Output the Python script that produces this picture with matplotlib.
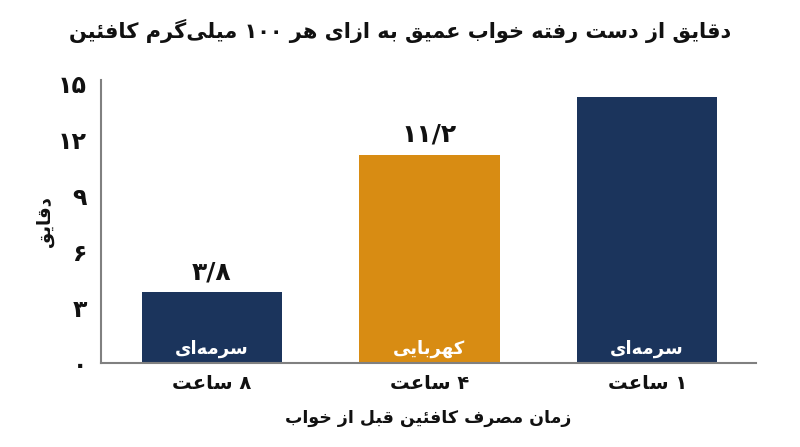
import matplotlib
matplotlib.use("Agg")
import matplotlib.pyplot as plt

# ---------------- data ----------------
categories = ["۸ ساعت", "۴ ساعت", "۱ ساعت"]
values = [3.8, 11.2, 14.3]
value_labels = ["۳/۸", "۱۱/۲", ""]
bar_names = ["سرمه‌ای", "کهربایی", "سرمه‌ای"]
y_ticks = [0, 3, 6, 9, 12, 15]
y_tick_labels = ["۰", "۳", "۶", "۹", "۱۲", "۱۵"]
title = "دقایق از دست رفته خواب عمیق به ازای هر ۱۰۰ میلی‌گرم کافئین"
x_title = "زمان مصرف کافئین قبل از خواب"
y_title = "دقایق"

NAVY = "#1b345c"
AMBER = "#d88c13"
bar_colors = [NAVY, AMBER, NAVY]

# ------------- minimal Arabic/Persian shaping -------------
# forms: (isolated, final, initial, medial); None for right-joining letters
FORMS = {
    "\u0627": (0xFE8D, 0xFE8E, None, None),
    "\u0628": (0xFE8F, 0xFE90, 0xFE91, 0xFE92),
    "\u0629": (0xFE93, 0xFE94, None, None),
    "\u062A": (0xFE95, 0xFE96, 0xFE97, 0xFE98),
    "\u062B": (0xFE99, 0xFE9A, 0xFE9B, 0xFE9C),
    "\u062C": (0xFE9D, 0xFE9E, 0xFE9F, 0xFEA0),
    "\u062D": (0xFEA1, 0xFEA2, 0xFEA3, 0xFEA4),
    "\u062E": (0xFEA5, 0xFEA6, 0xFEA7, 0xFEA8),
    "\u062F": (0xFEA9, 0xFEAA, None, None),
    "\u0630": (0xFEAB, 0xFEAC, None, None),
    "\u0631": (0xFEAD, 0xFEAE, None, None),
    "\u0632": (0xFEAF, 0xFEB0, None, None),
    "\u0633": (0xFEB1, 0xFEB2, 0xFEB3, 0xFEB4),
    "\u0634": (0xFEB5, 0xFEB6, 0xFEB7, 0xFEB8),
    "\u0635": (0xFEB9, 0xFEBA, 0xFEBB, 0xFEBC),
    "\u0636": (0xFEBD, 0xFEBE, 0xFEBF, 0xFEC0),
    "\u0637": (0xFEC1, 0xFEC2, 0xFEC3, 0xFEC4),
    "\u0638": (0xFEC5, 0xFEC6, 0xFEC7, 0xFEC8),
    "\u0639": (0xFEC9, 0xFECA, 0xFECB, 0xFECC),
    "\u063A": (0xFECD, 0xFECE, 0xFECF, 0xFED0),
    "\u0641": (0xFED1, 0xFED2, 0xFED3, 0xFED4),
    "\u0642": (0xFED5, 0xFED6, 0xFED7, 0xFED8),
    "\u0643": (0xFED9, 0xFEDA, 0xFEDB, 0xFEDC),
    "\u0644": (0xFEDD, 0xFEDE, 0xFEDF, 0xFEE0),
    "\u0645": (0xFEE1, 0xFEE2, 0xFEE3, 0xFEE4),
    "\u0646": (0xFEE5, 0xFEE6, 0xFEE7, 0xFEE8),
    "\u0647": (0xFEE9, 0xFEEA, 0xFEEB, 0xFEEC),
    "\u0648": (0xFEED, 0xFEEE, None, None),
    "\u0649": (0xFEEF, 0xFEF0, None, None),
    "\u064A": (0xFEF1, 0xFEF2, 0xFEF3, 0xFEF4),
    "\u0626": (0xFE89, 0xFE8A, 0xFE8B, 0xFE8C),
    "\u06A9": (0xFB8E, 0xFB8F, 0xFB90, 0xFB91),
    "\u06AF": (0xFB92, 0xFB93, 0xFB94, 0xFB95),
    "\u06CC": (0xFBFC, 0xFBFD, 0xFBFE, 0xFBFF),
    "\u067E": (0xFB56, 0xFB57, 0xFB58, 0xFB59),
    "\u0686": (0xFB7A, 0xFB7B, 0xFB7C, 0xFB7D),
    "\u0698": (0xFB8A, 0xFB8B, None, None),
}


def _dual(c):
    return c in FORMS and FORMS[c][2] is not None


def shape(text):
    out = []
    n = len(text)
    i = 0
    while i < n:
        c = text[i]
        if c in FORMS:
            prev = text[i - 1] if i > 0 else ""
            nxt = text[i + 1] if i + 1 < n else ""
            jp = _dual(prev)
            # lam-alef ligature
            if c == "\u0644" and nxt == "\u0627":
                out.append(chr(0xFEFC if jp else 0xFEFB))
                i += 2
                continue
            jn = _dual(c) and nxt in FORMS
            f = FORMS[c]
            if jp and jn:
                out.append(chr(f[3]))
            elif jp:
                out.append(chr(f[1]))
            elif jn:
                out.append(chr(f[2]))
            else:
                out.append(chr(f[0]))
        elif c == "\u200c":
            pass
        else:
            out.append(c)
        i += 1
    s = "".join(out)
    # visual reorder: reverse, keeping number runs LTR
    digits = set("0123456789۰۱۲۳۴۵۶۷۸۹٠١٢٣٤٥٦٧٨٩")
    runs = []
    j = 0
    while j < len(s):
        if s[j] in digits:
            k = j
            while k < len(s) and (s[k] in digits or (s[k] in "/.٫" and k + 1 < len(s) and s[k + 1] in digits)):
                k += 1
            runs.append(s[j:k])
            j = k
        else:
            k = j
            while k < len(s) and s[k] not in digits:
                k += 1
            runs.append(s[j:k][::-1])
            j = k
    return "".join(runs[::-1])


plt.rcParams["font.family"] = ["DejaVu Sans"]

fig = plt.figure(figsize=(8.0, 4.47), dpi=100)
ax = fig.add_axes([0.126, 0.1875, 0.819, 0.6335])

x = list(range(len(categories)))
bars = ax.bar(x, values, width=0.645, color=bar_colors, zorder=2)

ax.set_xlim(-0.51, 2.5)
ax.set_ylim(0, 15.2)

ax.set_yticks(y_ticks)
ax.set_yticklabels([shape(t) for t in y_tick_labels], fontsize=17, fontweight="bold")
ax.set_xticks(x)
ax.set_xticklabels([shape(t) for t in categories], fontsize=14, fontweight="bold")
ax.tick_params(axis="both", length=0, colors="#111111")
ax.tick_params(axis="y", pad=10)
ax.tick_params(axis="x", pad=8)

for side in ("top", "right"):
    ax.spines[side].set_visible(False)
for side in ("left", "bottom"):
    ax.spines[side].set_color("#808080")
    ax.spines[side].set_linewidth(1.5)

for b, v, lab, name in zip(bars, values, value_labels, bar_names):
    cx = b.get_x() + b.get_width() / 2
    if lab:
        ax.annotate(shape(lab), (cx, v), xytext=(0, 6), textcoords="offset points",
                    ha="center", va="bottom", fontsize=18, fontweight="bold", color="#111111")
    ax.annotate(shape(name), (cx, 0), xytext=(0, 10.5), textcoords="offset points",
                ha="center", va="center", fontsize=13, fontweight="bold", color="white")

ax.set_xlabel(shape(x_title), fontsize=12.5, fontweight="bold", labelpad=11, color="#111111")
ax.set_ylabel(shape(y_title), fontsize=13, fontweight="bold", labelpad=3, color="#111111")

fig.text(0.5, 0.93, shape(title), ha="center", va="center", fontsize=15, fontweight="bold",
         color="#111111")

fig.savefig("out.png", dpi=100, facecolor="white")
